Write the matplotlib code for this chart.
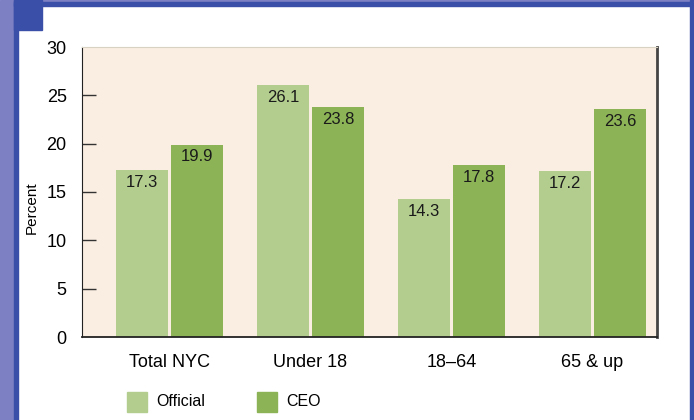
import numpy as np
import matplotlib.pyplot as plt
from matplotlib.patches import Rectangle

plt.rcParams['font.family'] = ['Liberation Sans', 'DejaVu Sans']

groups = ['Total NYC', 'Under 18', '18\u201364', '65 & up']
official = [17.3, 26.1, 14.3, 17.2]
ceo = [19.9, 23.8, 17.8, 23.6]
yticks = [0, 5, 10, 15, 20, 25, 30]

c_off = '#B3CD8F'
c_ceo = '#8CB356'

fig = plt.figure(figsize=(6.94, 4.2), dpi=100)

# frame decoration
W, H = 694, 420
def px_rect(x, y, w, h, color):
    fig.patches.append(Rectangle((x / W, 1 - (y + h) / H), w / W, h / H,
                                 transform=fig.transFigure, color=color, zorder=0))
px_rect(0, 0, 14, H, '#7D80C2')
px_rect(14, 0, 4, H, '#3A4FA8')
px_rect(14, 0, W - 14, 2, '#7D80C2')
px_rect(14, 2, W - 14, 4, '#3A4FA8')
px_rect(14, 0, 28, 30, '#3A4FA8')
px_rect(690, 0, 4, H, '#3A4FA8')

ax = fig.add_axes([82 / W, 1 - 337 / H, 575 / W, 290 / H])
ax.set_facecolor('#FAEEE2')

x = np.arange(len(groups))
w = 0.37
off = 0.195
b1 = ax.bar(x - off, official, w, color=c_off, label='Official')
b2 = ax.bar(x + off, ceo, w, color=c_ceo, label='CEO')
for bars, vals in [(b1, official), (b2, ceo)]:
    for b, v in zip(bars, vals):
        ax.annotate(f'{v:.1f}', (b.get_x() + b.get_width() / 2, v),
                    xytext=(0, -3.5), textcoords='offset points',
                    ha='center', va='top', fontsize=12, color='#1a1a1a')

ax.set_xlim(-0.62, 3.457)
ax.set_ylim(0, 30)
ax.set_yticks(yticks)
ax.set_yticklabels([str(t) for t in yticks], fontsize=13)
ax.tick_params(axis='y', direction='in', length=10, width=1, color='#333333', pad=11)
for t in ax.yaxis.get_major_ticks():
    if t.get_loc() in (0, 30):
        t.tick1line.set_visible(False)
ax.set_xticks(x)
ax.set_xticklabels(groups, fontsize=13)
ax.tick_params(axis='x', length=0, pad=12)

ax.spines['left'].set_color('#222222')
ax.spines['bottom'].set_color('#222222')
ax.spines['bottom'].set_linewidth(1.3)
ax.spines['top'].set_color('#D8D2C2')
ax.spines['right'].set_color('#444444')
ax.spines['right'].set_linewidth(2)

fig.text(32 / W, 1 - 208 / H, 'Percent', rotation=90, ha='center', va='center', fontsize=11)

# legend
for lx, col, lab in [(127, c_off, 'Official'), (257, c_ceo, 'CEO')]:
    px_rect(lx, 392, 20, 20, col)
    fig.text((lx + 29) / W, 1 - 402 / H, lab, ha='left', va='center', fontsize=11.5)

fig.savefig('out.png', dpi=100)
